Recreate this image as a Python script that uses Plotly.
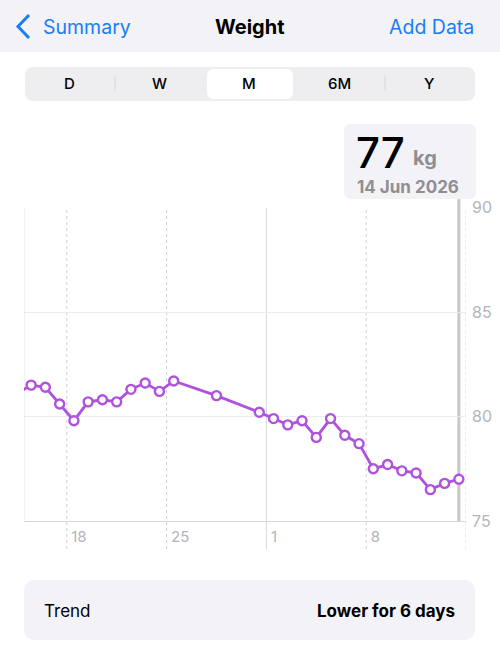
import plotly.graph_objects as go

# ---------------- data ----------------
dates = ["2026-05-14", "2026-05-15", "2026-05-16", "2026-05-17", "2026-05-18",
         "2026-05-19", "2026-05-20", "2026-05-21", "2026-05-22", "2026-05-23",
         "2026-05-24", "2026-05-25", "2026-05-28", "2026-05-31", "2026-06-01",
         "2026-06-02", "2026-06-03", "2026-06-04", "2026-06-05", "2026-06-06",
         "2026-06-07", "2026-06-08", "2026-06-09", "2026-06-10", "2026-06-11",
         "2026-06-12", "2026-06-13", "2026-06-14"]
weights = [81.1, 81.5, 81.4, 80.6, 79.8, 80.7, 80.8, 80.7, 81.3, 81.6,
           81.2, 81.7, 81.0, 80.2, 79.9, 79.6, 79.8, 79.0, 79.9, 79.1,
           78.7, 77.5, 77.7, 77.4, 77.3, 76.5, 76.8, 77.0]

x_tick_dates = ["2026-05-18", "2026-05-25", "2026-06-01", "2026-06-08"]
x_tick_text = ["18", "25", "1", "8"]
month_start = "2026-06-01"
y_ticks = [75, 80, 85, 90]
x_range = ["2026-05-15", "2026-06-15"]
y_range = [75, 90]
selected_date = "2026-06-14"
selected_value = "77"
selected_unit = "kg"
selected_label = "14 Jun 2026"
segments = ["D", "W", "M", "6M", "Y"]
selected_segment = "M"
trend_label = "Trend"
trend_value = "Lower for 6 days"
title = "Weight"
back_label = "Summary"
action_label = "Add Data"

# ---------------- layout helpers ----------------
W, H = 500, 646
FONT = "Inter"
BLUE = "#1a7cf6"
PURPLE = "#af52de"
GRAY_TXT = "#8e8e93"


def px(x):
    return x / W


def py(y):
    return 1 - y / H


def rrect(x0, y0, x1, y1, r, fill):
    rx, ry = r / W, r / H
    X0, X1 = px(x0), px(x1)
    Y0, Y1 = py(y0), py(y1)  # Y0 top (larger), Y1 bottom
    path = (f"M {X0+rx},{Y0} L {X1-rx},{Y0} Q {X1},{Y0} {X1},{Y0-ry} "
            f"L {X1},{Y1+ry} Q {X1},{Y1} {X1-rx},{Y1} L {X0+rx},{Y1} "
            f"Q {X0},{Y1} {X0},{Y1+ry} L {X0},{Y0-ry} Q {X0},{Y0} {X0+rx},{Y0} Z")
    return dict(type="path", xref="paper", yref="paper", path=path,
                fillcolor=fill, line=dict(width=0), layer="below")


def label(text, x, y, xanchor, size, color, weight=400, yanchor="middle"):
    return dict(text=text, x=px(x), y=py(y), xref="paper", yref="paper",
                xanchor=xanchor, yanchor=yanchor, showarrow=False,
                font=dict(family=FONT, size=size, color=color, weight=weight))


def noon(d):
    return d + " 12:00"


shapes = []
annotations = []

# nav bar
shapes.append(dict(type="rect", xref="paper", yref="paper", x0=0, x1=1,
                   y0=py(52), y1=1, fillcolor="#f2f2f7", line=dict(width=0),
                   layer="below"))
# chevron
shapes.append(dict(type="path", xref="paper", yref="paper",
                   path=f"M {px(29)},{py(15)} L {px(18)},{py(26.5)} L {px(29)},{py(38)}",
                   line=dict(color=BLUE, width=3)))
annotations.append(label(back_label, 41, 27, "left", 19.5, BLUE))
annotations.append(label(title, 250, 27, "center", 20, "#000000", weight=700))
annotations.append(label(action_label, 476, 27, "right", 19.5, BLUE))

# segmented control
shapes.append(rrect(25, 67, 475, 101, 9, "#eeeef0"))
seg_w = (475 - 25) / len(segments)
sel_i = segments.index(selected_segment)
shapes.append(rrect(25 + sel_i * seg_w + 2, 69, 25 + (sel_i + 1) * seg_w - 2, 99, 7, "#ffffff"))
for i in range(1, len(segments)):
    if i in (sel_i, sel_i + 1):
        continue
    xs = 25 + i * seg_w
    shapes.append(dict(type="line", xref="paper", yref="paper", x0=px(xs), x1=px(xs),
                       y0=py(76), y1=py(91), line=dict(color="#d6d6da", width=1)))
for i, s in enumerate(segments):
    annotations.append(label(s, 25 + (i + 0.5) * seg_w - 1, 84, "center", 15, "#000000",
                             weight=500))

# info box
shapes.append(rrect(344, 124, 476, 199, 8, "#f2f2f7"))
annotations.append(label(selected_value, 354, 153, "left", 42, "#000000", weight=500))
annotations.append(label(selected_unit, 411, 158, "left", 20, GRAY_TXT, weight=700))
annotations.append(label(selected_label, 355, 187, "left", 17, GRAY_TXT, weight=700))

# trend box
shapes.append(rrect(24, 580, 475, 640, 12, "#f2f2f7"))
annotations.append(label(trend_label, 42, 611, "left", 17, "#000000"))
annotations.append(label(trend_value, 457, 611, "right", 17, "#000000", weight=700))

# chart grid shapes
y_top, y_bot, y_ext = py(207.5), py(521), py(549)
for d in x_tick_dates:
    solid = d == month_start
    shapes.append(dict(type="line", xref="x", yref="paper", x0=d, x1=d,
                       y0=y_ext, y1=y_top, layer="below",
                       line=dict(color="#d8d8dc" if solid else "#cfcfd4",
                                 width=1, dash="solid" if solid else "dot")))
# right end dotted line
shapes.append(dict(type="line", xref="x", yref="paper", x0=x_range[1], x1=x_range[1],
                   y0=y_ext, y1=y_top, layer="below",
                   line=dict(color="#d6d6da", width=1, dash="dot")))
# left edge line
shapes.append(dict(type="line", xref="x", yref="paper", x0=x_range[0], x1=x_range[0],
                   y0=y_bot, y1=y_top, layer="below",
                   line=dict(color="#e3e3e7", width=1)))
# selected date marker line
shapes.append(dict(type="line", xref="x", yref="paper", x0=noon(selected_date),
                   x1=noon(selected_date), y0=y_bot, y1=py(199), layer="below",
                   line=dict(color="#c7c7cc", width=3)))

fig = go.Figure()
fig.add_trace(go.Scatter(
    x=[noon(d) for d in dates], y=weights, mode="lines+markers",
    line=dict(color=PURPLE, width=2.8),
    marker=dict(size=9, color="#ffffff", line=dict(color=PURPLE, width=2.4)),
    hoverinfo="skip", showlegend=False,
))

fig.update_layout(
    width=W, height=H, margin=dict(l=0, r=0, t=0, b=0, autoexpand=False),
    paper_bgcolor="#ffffff", plot_bgcolor="#ffffff",
    shapes=shapes, annotations=annotations, showlegend=False,
    xaxis=dict(domain=[px(24), px(466)], range=x_range, type="date",
               tickvals=x_tick_dates, ticktext=x_tick_text, showgrid=False,
               zeroline=False, showline=True, linecolor="#d8d8dc", linewidth=1,
               ticks="", ticklabelposition="outside right", ticklabelshift=4,
               ticklabelstandoff=2, automargin=False,
               tickfont=dict(family=FONT, size=15, color="#b4b4b9"),
               fixedrange=True),
    yaxis=dict(domain=[py(521), py(207.5)], range=y_range, side="right",
               tickvals=y_ticks, showgrid=True, gridcolor="#ececf0", gridwidth=1,
               zeroline=False, showline=False, ticks="", ticklabelstandoff=5,
               automargin=False,
               tickfont=dict(family=FONT, size=16, color="#b4b4b9"),
               fixedrange=True),
)

fig.write_html("out.html", config={"displayModeBar": False})
